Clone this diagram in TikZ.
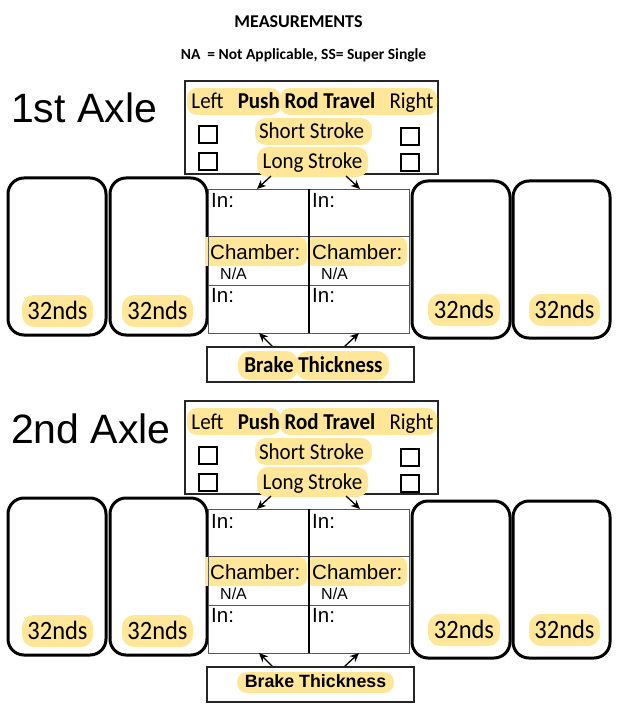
\documentclass[tikz,border=0pt]{standalone}
\usepackage{fontspec}
\setmainfont{Carlito}
\newfontfamily\arialf{Liberation Sans}
\usetikzlibrary{arrows.meta}
\definecolor{hl}{HTML}{FFE699}
\tikzset{
  hlfill/.style={fill=hl, rounded corners=10pt},
  tire/.style={draw=black, line width=3pt, rounded corners=16pt},
  cbox/.style={draw=black, line width=2pt, minimum width=18pt, minimum height=17pt, inner sep=0pt},
  cal/.style={font=\fontsize{21}{21}\selectfont, inner sep=0pt, yscale=1.08},
  calb/.style={font=\fontsize{21}{21}\selectfont\bfseries, inner sep=0pt, yscale=1.08},
  calnum/.style={font=\fontsize{24.5}{24.5}\selectfont, inner sep=0pt, yscale=1.08},
  ar/.style={font=\arialf\fontsize{20.5}{20.5}\selectfont, inner sep=0pt},
  arsmall/.style={font=\arialf\fontsize{16}{16}\selectfont, inner sep=0pt},
  axlelbl/.style={font=\arialf\fontsize{41}{41}\selectfont, inner sep=0pt},
  arr/.style={-{Stealth[length=9pt,width=8pt]}, line width=1.3pt},
  framebox/.style={draw=black!85, line width=1.2pt, inner sep=0pt},
  tblline/.style={draw=black!65, line width=0.9pt},
  midline/.style={draw=black, line width=1.8pt},
}
\newcommand\drawaxle[3]{%
\begin{scope}[yshift=-#2pt]
  \node[axlelbl, anchor=base west] (axle#1) at (11,123) {#3};
  % push rod travel box
  \node[framebox, minimum width=253pt, minimum height=93pt] (prbox#1) at (311.5,127.5) {};
  \fill[hlfill] (187,88) rectangle (281,115);
  \fill[hlfill] (280,88) rectangle (437,115);
  \fill[hlfill, rounded corners=11pt] (255,118) rectangle (372,145);
  \fill[hlfill, rounded corners=11pt] (257,147) rectangle (368,177);
  \node[cal, anchor=base] (left#1) at (207.5,109) {Left};
  \node[calb, anchor=base] (prt#1) at (306.5,109) {Push Rod Travel};
  \node[cal, anchor=base] (right#1) at (411.5,109) {Right};
  \node[cal, anchor=base] (ss#1) at (311.5,139) {Short Stroke};
  \node[cal, anchor=base] (ls#1) at (312.5,169) {Long Stroke};
  \node[cbox] (cbla#1) at (208,135) {};
  \node[cbox] (cblb#1) at (208,162) {};
  \node[cbox] (cbra#1) at (410,137) {};
  \node[cbox] (cbrb#1) at (410,163) {};
  % tires
  \draw[tire] (8,178) rectangle (106,335);
  \draw[tire] (110,178) rectangle (207,335);
  \draw[tire] (412,181) rectangle (510,338);
  \draw[tire] (513,181) rectangle (610,338);
  \fill[hlfill, rounded corners=12pt] (22,295) rectangle (93,327);
  \fill[hlfill, rounded corners=12pt] (122,295) rectangle (193,327);
  \fill[hlfill, rounded corners=12pt] (428,294) rectangle (500,326);
  \fill[hlfill, rounded corners=12pt] (529,294) rectangle (600,326);
  \node[calnum, anchor=base] (tl1#1) at (57.5,319) {32nds};
  \node[calnum, anchor=base] (tl2#1) at (157.5,319) {32nds};
  \node[calnum, anchor=base] (tr1#1) at (464,318) {32nds};
  \node[calnum, anchor=base] (tr2#1) at (564.5,318) {32nds};
  % table
  \fill[hl, rounded corners=8pt] (205,237) rectangle (307,266);
  \fill[hl] (205,237) rectangle (280,266);
  \fill[hl, rounded corners=8pt] (310,237) rectangle (407,266);
  \fill[hl] (310,237) rectangle (380,266);
  \node[tblline, minimum width=201pt, minimum height=144pt, inner sep=0pt] (tbl#1) at (308.5,261) {};
  \draw[tblline] (208,236) -- (409,236);
  \draw[tblline] (208,285) -- (409,285);
  \draw[midline] (309,189) -- (309,333);
  \node[ar, anchor=base west] (inla#1) at (211,208) {In:};
  \node[ar, anchor=base west] (chl#1) at (210,259) {Chamber:};
  \node[arsmall, anchor=base west] (nal#1) at (220,279) {N/A};
  \node[ar, anchor=base west] (inlb#1) at (211,302) {In:};
  \node[ar, anchor=base west] (inra#1) at (312,208) {In:};
  \node[ar, anchor=base west] (chr#1) at (312,259) {Chamber:};
  \node[arsmall, anchor=base west] (nar#1) at (321,279) {N/A};
  \node[ar, anchor=base west] (inrb#1) at (312,302) {In:};
  % arrows
  \coordinate (ta#1) at (271,176);
  \coordinate (tb#1) at (257,189);
  \coordinate (tc#1) at (346,176);
  \coordinate (td#1) at (360,189);
  \draw[arr] (ta#1) -- (tb#1);
  \draw[arr] (tc#1) -- (td#1);
  \coordinate (ba#1) at (273,347);
  \coordinate (bb#1) at (259,333);
  \coordinate (bc#1) at (344,347);
  \coordinate (bd#1) at (359,333);
  \draw[arr] (ba#1) -- (bb#1);
  \draw[arr] (bc#1) -- (bd#1);
  \node[framebox, minimum width=207pt, minimum height=35pt] (bt#1) at (310.5,364.5) {};
\end{scope}}
\begin{document}
\begin{tikzpicture}[x=1pt,y=-1pt]
  \useasboundingbox (0,0) rectangle (621,708);
  \node[font=\fontsize{18}{18}\selectfont\bfseries, anchor=base, inner sep=0pt] (title) at (298.5,28) {MEASUREMENTS};
  \node[font=\fontsize{15.5}{15.5}\selectfont\bfseries, anchor=base, inner sep=0pt] (sub) at (303.5,60) {NA \ = Not Applicable, SS= Super Single};
  \drawaxle{1}{0}{1st Axle}
  \drawaxle{2}{320}{2nd Axle}
  % brake thickness labels
  \fill[hlfill, rounded corners=12pt] (238,351) rectangle (298,380);
  \fill[hlfill, rounded corners=12pt] (296,351) rectangle (389,380);
  \node[calb, anchor=base] (btt1) at (313.5,372) {Brake Thickness};
  \fill[hlfill, rounded corners=10pt] (237,672) rectangle (394,693);
  \node[font=\arialf\fontsize{17.8}{17.8}\selectfont\bfseries, anchor=base, inner sep=0pt] (btt2) at (315.5,687) {Brake Thickness};
\end{tikzpicture}
\end{document}
